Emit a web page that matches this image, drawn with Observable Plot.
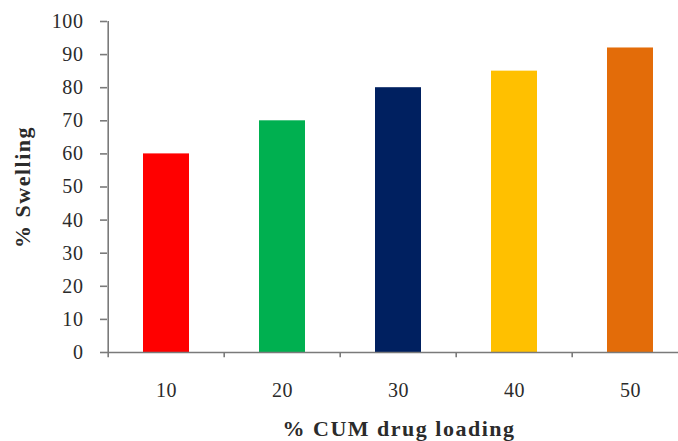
<!DOCTYPE html>
<html>
<head>
<meta charset="utf-8">
<script src="https://cdn.jsdelivr.net/npm/d3@7"></script>
<script src="https://cdn.jsdelivr.net/npm/@observablehq/plot@0.6"></script>
<style>
  html, body { margin: 0; padding: 0; background: #fff; overflow: hidden; }
  #chart svg { display: block; }
  .wide-title text { letter-spacing: 1.5px; }
  .wide-ticks text { letter-spacing: 0.6px; }
</style>
</head>
<body>
<div id="chart"></div>
<script>
// Drug loading levels (%) and the resulting swelling (%)
const loadings = ["10", "20", "30", "40", "50"];
const swelling = [60, 70, 80, 85, 92];
const barColors = ["#ff0000", "#00b050", "#002060", "#ffc000", "#e36c09"];
const yTicks = [0, 10, 20, 30, 40, 50, 60, 70, 80, 90, 100];
const xTitle = "% CUM drug loading";
const yTitle = "% Swelling";

const data = loadings.map((l, i) => ({loading: l, swelling: swelling[i], color: barColors[i]}));

const W = 678, H = 441;
const mLeft = 107, mTop = 21, mBottom = 89;
const xRange = [107, 690];
const step = (xRange[1] - xRange[0]) / loadings.length;
const ink = "#2b2b2b";
const axisInk = "#7a7a7a";
const serif = "'Liberation Serif', 'Times New Roman', serif";

const chart = Plot.plot({
  width: W,
  height: H,
  marginLeft: mLeft,
  marginRight: 0,
  marginTop: mTop,
  marginBottom: mBottom,
  style: {fontFamily: serif, color: ink, background: "#fff"},
  x: {type: "band", domain: loadings, range: xRange, paddingInner: 0.6, paddingOuter: 0.3},
  y: {domain: [0, 100]},
  marks: [
    Plot.barY(data, {x: "loading", y: "swelling", fill: "color"}),
    // x axis line across the frame
    Plot.ruleY([0], {stroke: axisInk, strokeWidth: 1.6}),
    // y axis line, extending slightly below the x axis
    Plot.ruleX([loadings[0]], {dx: -step / 2, y1: -1.6, y2: 100, stroke: axisInk, strokeWidth: 1.6}),
    // x ticks between categories
    Plot.ruleX(loadings.slice(1), {dx: -step / 2, y1: -1.6, y2: 0, stroke: axisInk, strokeWidth: 1.6}),
    Plot.axisY({ticks: yTicks, tickSize: 7, tickPadding: 17, fontSize: 20, stroke: axisInk, strokeWidth: 1.6, label: null, color: ink, className: "wide-ticks"}),
    Plot.axisX({tickSize: 0, tickPadding: 30, fontSize: 20, label: null, color: ink, className: "wide-ticks"}),
    Plot.text([xTitle], {frameAnchor: "bottom", textAnchor: "middle", lineAnchor: "middle", dx: 6, dy: 76, fontSize: 22, fontWeight: "bold", fill: ink, className: "wide-title"}),
    Plot.text([yTitle], {frameAnchor: "left", textAnchor: "middle", lineAnchor: "middle", dx: -85, rotate: -90, fontSize: 22, fontWeight: "bold", fill: ink, className: "wide-title"})
  ]
});

document.getElementById("chart").append(chart);
</script>
</body>
</html>
